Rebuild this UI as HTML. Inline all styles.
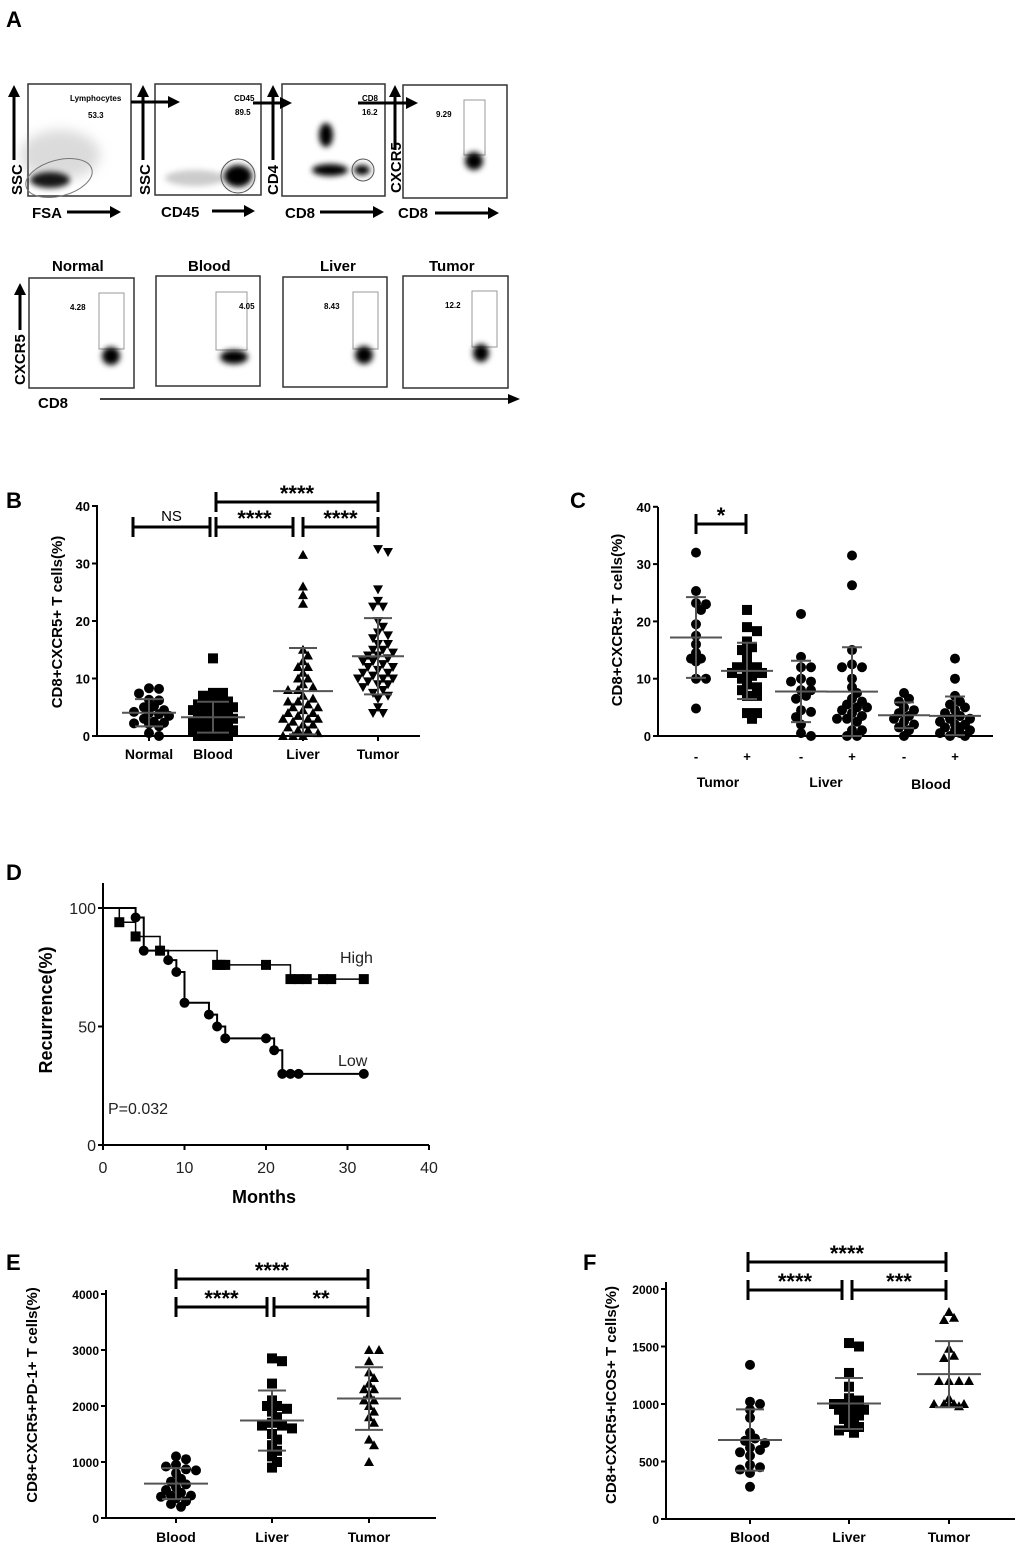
<!DOCTYPE html>
<html><head><meta charset="utf-8"><style>
html,body{margin:0;padding:0;background:#fff}
svg{display:block;font-family:"Liberation Sans",Arial,sans-serif}
.pl{font-weight:bold;font-size:22px}
.ax{stroke:#000;stroke-width:2;fill:none}
</style></head><body>
<svg id="fig" width="1020" height="1547" viewBox="0 0 1020 1547" xmlns="http://www.w3.org/2000/svg">
<defs>
<filter id="bl" x="-50%" y="-50%" width="200%" height="200%"><feGaussianBlur stdDeviation="3"/></filter>
<filter id="bl2" x="-50%" y="-50%" width="200%" height="200%"><feGaussianBlur stdDeviation="6"/></filter>
</defs>
<text class="pl" x="6" y="27">A</text>
<text class="pl" x="6" y="508">B</text>
<text class="pl" x="570" y="508">C</text>
<text class="pl" x="6" y="880">D</text>
<text class="pl" x="6" y="1270">E</text>
<text class="pl" x="583" y="1270">F</text>

<g>
 <rect x="28" y="84" width="103" height="112" fill="none" stroke="#333" stroke-width="1.5"/>
 <ellipse cx="60" cy="155" rx="40" ry="25" fill="#999" opacity="0.35" filter="url(#bl2)"/>
 <ellipse cx="50" cy="180" rx="20" ry="8" fill="#000" opacity="0.9" filter="url(#bl)"/>
 <ellipse cx="59" cy="178" rx="34" ry="18" transform="rotate(-15 59 178)" fill="none" stroke="#777" stroke-width="1"/>
 <text x="70" y="101" font-size="8" font-weight="bold">Lymphocytes</text>
 <text x="88" y="118" font-size="8" font-weight="bold">53.3</text>
 <rect x="155" y="84" width="106" height="111" fill="none" stroke="#333" stroke-width="1.5"/>
 <ellipse cx="195" cy="178" rx="30" ry="8" fill="#999" opacity="0.5" filter="url(#bl)"/>
 <ellipse cx="238" cy="176" rx="14" ry="11" fill="#000" filter="url(#bl)"/>
 <circle cx="238" cy="176" r="17" fill="none" stroke="#555" stroke-width="1"/>
 <text x="234" y="101" font-size="8" font-weight="bold">CD45</text>
 <text x="235" y="115" font-size="8" font-weight="bold">89.5</text>
 <rect x="282" y="84" width="103" height="112" fill="none" stroke="#333" stroke-width="1.5"/>
 <ellipse cx="326" cy="135" rx="7" ry="12" fill="#000" filter="url(#bl)"/>
 <ellipse cx="330" cy="170" rx="18" ry="6" fill="#000" filter="url(#bl)"/>
 <ellipse cx="362" cy="170" rx="8" ry="5" fill="#000" filter="url(#bl)"/>
 <circle cx="363" cy="170" r="11" fill="none" stroke="#555" stroke-width="1"/>
 <text x="362" y="101" font-size="8" font-weight="bold">CD8</text>
 <text x="362" y="115" font-size="8" font-weight="bold">16.2</text>
 <rect x="403" y="85" width="104" height="113" fill="none" stroke="#333" stroke-width="1.5"/>
 <rect x="464" y="100" width="21" height="55" fill="none" stroke="#999" stroke-width="1"/>
 <ellipse cx="474" cy="161" rx="9" ry="9" fill="#000" filter="url(#bl)"/>
 <text x="436" y="117" font-size="8" font-weight="bold">9.29</text>
 <g stroke="#000" stroke-width="3" fill="#000">
  <line x1="14" y1="160" x2="14" y2="95"/><polygon points="8,97 20,97 14,85" stroke="none"/>
  <line x1="143" y1="160" x2="143" y2="95"/><polygon points="137,97 149,97 143,85" stroke="none"/>
  <line x1="273" y1="160" x2="273" y2="95"/><polygon points="267,97 279,97 273,85" stroke="none"/>
  <line x1="395" y1="150" x2="395" y2="95"/><polygon points="389,97 401,97 395,85" stroke="none"/>
  <line x1="131" y1="102" x2="170" y2="102"/><polygon points="168,96 168,108 180,102" stroke="none"/>
  <line x1="253" y1="103" x2="283" y2="103"/><polygon points="280,97 280,109 292,103" stroke="none"/>
  <line x1="358" y1="103" x2="408" y2="103"/><polygon points="406,97 406,109 418,103" stroke="none"/>
  <line x1="67" y1="212" x2="112" y2="212"/><polygon points="110,206 110,218 121,212" stroke="none"/>
  <line x1="212" y1="211" x2="246" y2="211"/><polygon points="244,205 244,217 255,211" stroke="none"/>
  <line x1="320" y1="212" x2="375" y2="212"/><polygon points="373,206 373,218 384,212" stroke="none"/>
  <line x1="435" y1="213" x2="490" y2="213"/><polygon points="488,207 488,219 499,213" stroke="none"/>
 </g>
 <text x="22" y="195" font-size="15" font-weight="bold" transform="rotate(-90 22 195)">SSC</text>
 <text x="150" y="195" font-size="15" font-weight="bold" transform="rotate(-90 150 195)">SSC</text>
 <text x="278" y="195" font-size="15" font-weight="bold" transform="rotate(-90 278 195)">CD4</text>
 <text x="401" y="193" font-size="15" font-weight="bold" transform="rotate(-90 401 193)">CXCR5</text>
 <text x="32" y="218" font-size="15" font-weight="bold">FSA</text>
 <text x="161" y="217" font-size="15" font-weight="bold">CD45</text>
 <text x="285" y="218" font-size="15" font-weight="bold">CD8</text>
 <text x="398" y="218" font-size="15" font-weight="bold">CD8</text>
</g>
<g>
 <text x="52" y="271" font-size="15" font-weight="bold">Normal</text>
 <text x="188" y="271" font-size="15" font-weight="bold">Blood</text>
 <text x="320" y="271" font-size="15" font-weight="bold">Liver</text>
 <text x="429" y="271" font-size="15" font-weight="bold">Tumor</text>
 <rect x="29" y="278" width="105" height="110" fill="none" stroke="#333" stroke-width="1.5"/>
 <rect x="99" y="293" width="25" height="56" fill="none" stroke="#999"/>
 <ellipse cx="111" cy="356" rx="9" ry="9" fill="#000" filter="url(#bl)"/>
 <text x="70" y="310" font-size="8" font-weight="bold">4.28</text>
 <rect x="156" y="276" width="104" height="110" fill="none" stroke="#333" stroke-width="1.5"/>
 <rect x="216" y="292" width="31" height="58" fill="none" stroke="#999"/>
 <ellipse cx="234" cy="357" rx="14" ry="7" fill="#000" filter="url(#bl)"/>
 <text x="239" y="309" font-size="8" font-weight="bold">4.05</text>
 <rect x="283" y="277" width="104" height="110" fill="none" stroke="#333" stroke-width="1.5"/>
 <rect x="353" y="292" width="25" height="57" fill="none" stroke="#999"/>
 <ellipse cx="364" cy="355" rx="9" ry="9" fill="#000" filter="url(#bl)"/>
 <text x="324" y="309" font-size="8" font-weight="bold">8.43</text>
 <rect x="403" y="276" width="105" height="112" fill="none" stroke="#333" stroke-width="1.5"/>
 <rect x="472" y="291" width="25" height="56" fill="none" stroke="#999"/>
 <ellipse cx="481" cy="353" rx="8" ry="9" fill="#000" filter="url(#bl)"/>
 <text x="445" y="308" font-size="8" font-weight="bold">12.2</text>
 <g stroke="#000" stroke-width="3" fill="#000">
  <line x1="20" y1="330" x2="20" y2="293"/><polygon points="14,295 26,295 20,283" stroke="none"/>
 </g>
 <line x1="100" y1="399" x2="510" y2="399" stroke="#000" stroke-width="1.5"/>
 <polygon points="508,394 508,404 520,399" fill="#000"/>
 <text x="25" y="385" font-size="15" font-weight="bold" transform="rotate(-90 25 385)">CXCR5</text>
 <text x="38" y="408" font-size="15" font-weight="bold">CD8</text>
</g>

<text x="0" y="0" font-size="15" font-weight="bold" text-anchor="middle" transform="translate(62,622) rotate(-90)">CD8+CXCR5+ T cells(%)</text>
<text x="0" y="0" font-size="15" font-weight="bold" text-anchor="middle" transform="translate(622,620) rotate(-90)">CD8+CXCR5+ T cells(%)</text>
<text x="0" y="0" font-size="18" font-weight="bold" text-anchor="middle" transform="translate(52,1010) rotate(-90)">Recurrence(%)</text>
<text x="264" y="1203" font-size="18" font-weight="bold" text-anchor="middle">Months</text>
<text x="340" y="963" font-size="16" fill="#222">High</text>
<text x="338" y="1066" font-size="16" fill="#222">Low</text>
<text x="108" y="1114" font-size="16" fill="#222">P=0.032</text>
<text x="0" y="0" font-size="15" font-weight="bold" text-anchor="middle" transform="translate(37,1395) rotate(-90)">CD8+CXCR5+PD-1+ T cells(%)</text>
<text x="0" y="0" font-size="15" font-weight="bold" text-anchor="middle" transform="translate(616,1395) rotate(-90)">CD8+CXCR5+ICOS+ T cells(%)</text>
<text x="718" y="787" font-size="14" font-weight="bold" text-anchor="middle">Tumor</text>
<text x="826" y="787" font-size="14" font-weight="bold" text-anchor="middle">Liver</text>
<text x="931" y="789" font-size="14" font-weight="bold" text-anchor="middle">Blood</text>
</svg>
<script>
// ===== Panel B data =====
const bCats = ["Normal","Blood","Liver","Tumor"];
const bNormal = [8.2,8.3,6.2,6.3,5.2,5,4.5,4,3.8,3.5,3,2.5,2.3,2.2,2.1,1.7,0.5,0,7.4,4.2];
const bBlood = [13.5,7.5,7.5,7,6.5,6,6,5.5,5,5,5,4.5,4.5,4,4,4,3.5,3.5,3.5,3,3,3,2.5,2.5,2.5,2,2,2,2,1.5,1.5,1.5,1,1,1,1,0.5,0.5,0.5,0,0,0,0];
const bLiver = [31.5,26,24.5,23,15,14,13,12,12,11,10,10,9,8.5,8,8,7,6.5,6,6,5.5,5,5,4.5,4,4,3.5,3,3,3,2.5,2,2,1.5,1,1,0.5,0,0,0];
const bTumor = [32.5,32,25.5,23.5,22.5,22.5,20,19,18,17.5,17,16,16,15,15,14.5,14,14,13.5,13,13,12.5,12,12,11.5,11,11,10.5,10,10,10,9.5,9,9,8.5,8,7.5,7,6.5,5,4,4];
const bTicks = [0,10,20,30,40];
// ===== Panel C data =====
const cCats = ["-","+","-","+","-","+"];
const cTumorNeg = [32,25.3,23.2,23,22,19.5,17.5,16,14.5,13.5,13.5,13,10,10,4.8];
const cTumorPos = [22,19,18.3,16.5,15.5,15,14,12.5,12,12,11.5,11,11,10.5,10,9,8.5,8,7,7,4,4,3];
const cLiverNeg = [21.3,13.8,12,12,10,9.5,9.5,8,8,7,6.5,4.5,4.2,3.3,2,0.5,0];
const cLiverPos = [31.5,26.3,15,12.5,12,12,10,8.5,7.5,6.5,6,5.5,5,5,4.5,4,3.5,3,3,2.5,1,1,0,0];
const cBloodNeg = [7.5,6.5,6,5,4.5,4,3.5,3,2.5,2,1.5,1,0];
const cBloodPos = [13.5,10,7,6,5.5,5,4.5,4,3.5,3,3,2.5,2,2,1.5,1.5,1,1,0.5,0.5,0,0];
// ===== Panel D data =====
const dXTicks = [0,10,20,30,40];
const dYTicks = [0,50,100];
const dHighT = [0,2,4,7,14,23];
const dHighV = [100,94,88,82,76,70];
const dHighMarks = [2,4,7,14,14.5,15,20,23,24,25,27,28,32];
const dLowT = [0,4,5,8,9,10,13,14,15,21,22];
const dLowV = [100,96,82,78,73,60,55,50,45,40,30];
const dLowMarks = [4,5,7,8,9,10,13,14,15,20,21,22,23,24,32];
const dEnd = 32;
// ===== Panel E data =====
const eCats = ["Blood","Liver","Tumor"];
const eBlood = [1100,1050,950,920,870,850,800,700,650,600,550,500,450,400,400,380,350,300,250,200];
const eLiver = [2850,2800,2400,2100,2000,2000,1950,1900,1800,1700,1650,1650,1600,1500,1400,1300,1200,1100,1000,900];
const eTumor = [3000,3000,2800,2600,2500,2400,2300,2300,2200,2100,2100,2000,1900,1800,1700,1400,1300,1000];
const eTicks = [0,1000,2000,3000,4000];
// ===== Panel F data =====
const fCats = ["Blood","Liver","Tumor"];
const fBlood = [1340,1020,1000,950,880,750,700,680,660,620,600,580,550,470,450,430,400,280];
const fLiver = [1530,1500,1270,1150,1050,1030,1000,1000,980,950,950,930,900,870,850,800,800,770,750];
const fTumor = [1800,1750,1730,1480,1420,1400,1200,1200,1200,1200,1050,1000,1000,1000,1000,1000,980];
const fTicks = [0,500,1000,1500,2000];

const NS="http://www.w3.org/2000/svg";
const svg=document.getElementById('fig');
function mk(tag,a,parent){const e=document.createElementNS(NS,tag);for(const k in a)e.setAttribute(k,a[k]);(parent||svg).appendChild(e);return e;}

function marker(g,shape,x,y,r){
  let e;
  if(shape==='circle') e=mk('circle',{cx:x,cy:y,r:r,fill:'#000'},g);
  else if(shape==='square') e=mk('rect',{x:x-r,y:y-r,width:2*r,height:2*r,fill:'#000'},g);
  else if(shape==='up') e=mk('polygon',{points:`${x-r},${y+r*0.8} ${x+r},${y+r*0.8} ${x},${y-r}`,fill:'#000'},g);
  else e=mk('polygon',{points:`${x-r},${y-r*0.8} ${x+r},${y-r*0.8} ${x},${y+r}`,fill:'#000'},g);
  
  
}
function swarm(vals,yS,cx,d,maxW){
  const pts=[];const sorted=vals.slice().sort((a,b)=>b-a);
  const step=d*0.5;const n=Math.floor(maxW/step);
  for(const v of sorted){
    const y=yS(v);let best=cx,bestD=-1;
    for(let s=0;s<=2*n;s++){
      const off=(s===0?0:(Math.ceil(s/2)*(s%2?1:-1)))*step;
      const x=cx+off;
      let md=1e9;for(const p of pts)md=Math.min(md,Math.hypot(p.x-x,p.y-y));
      if(md>=d*0.75){best=x;bestD=1e9;break;}
      if(md>bestD+0.5){bestD=md;best=x;}
    }
    pts.push({x:best,y});
  }
  return pts;
}
function stats(v){const m=v.reduce((a,b)=>a+b,0)/v.length;const sd=Math.sqrt(v.reduce((a,b)=>a+(b-m)*(b-m),0)/(v.length-1));return {m,sd};}

function yAxis(name,ax,yS,ticks,top,xEnd,y0,fs){
  const g=mk('g',{});
  
  
  mk('line',{x1:ax,y1:y0,x2:ax,y2:top,class:'ax'},g);
  mk('line',{x1:ax,y1:y0,x2:xEnd,y2:y0,class:'ax'},g);
  for(const t of ticks){
    mk('line',{x1:ax-5,y1:yS(t),x2:ax,y2:yS(t),class:'ax'},g);
    const tx=mk('text',{x:ax-7,y:yS(t)+5,'text-anchor':'end','font-size':fs,'font-weight':'bold'},g);
    tx.textContent=t;
    
    
  }
  return g;
}
function group(name,vals,shape,cx,yS,r,halfMean,halfSd,maxW){
  const g=mk('g',{});
  
  
  for(const p of swarm(vals,yS,cx,r*2,maxW)) marker(g,shape,p.x,p.y,r);
  const s=stats(vals);const lo=Math.max(s.m-s.sd,0);
  const st={stroke:'#555','stroke-width':2};
  mk('line',Object.assign({x1:cx-halfMean,x2:cx+halfMean,y1:yS(s.m),y2:yS(s.m)},st),g);
  mk('line',Object.assign({x1:cx,x2:cx,y1:yS(s.m+s.sd),y2:yS(lo)},st),g);
  mk('line',Object.assign({x1:cx-halfSd,x2:cx+halfSd,y1:yS(s.m+s.sd),y2:yS(s.m+s.sd)},st),g);
  mk('line',Object.assign({x1:cx-halfSd,x2:cx+halfSd,y1:yS(lo),y2:yS(lo)},st),g);
}
function bracket(name,x1,x2,y,label,fs){
  const g=mk('g',{});
  
  
  const st={stroke:'#000','stroke-width':3};
  mk('line',Object.assign({x1:x1,x2:x2,y1:y,y2:y},st),g);
  mk('line',Object.assign({x1:x1,x2:x1,y1:y-10,y2:y+10},st),g);
  mk('line',Object.assign({x1:x2,x2:x2,y1:y-10,y2:y+10},st),g);
  const t=mk('text',{x:(x1+x2)/2,y:label==='NS'?y-6:y-1,'text-anchor':'middle','font-size':label==='NS'?15:fs,'font-weight':label==='NS'?'normal':'bold'},g);
  t.textContent=label;
}
function catLabels(cats,xs,y,fs){
  cats.forEach((c,i)=>{
    const t=mk('text',{x:xs[i],y:y,'text-anchor':'middle','font-size':fs,'font-weight':'bold'});
    t.textContent=c;
    
    
  });
}

// Panel B
(function(){
  const yS=v=>736-v*5.75;const xs=[149,213,303,378];
  yAxis('y-axis-b',97,yS,bTicks,505,420,736,13);
  xs.forEach(x=>mk('line',{x1:x,x2:x,y1:736,y2:741,class:'ax'}));
  catLabels(bCats,xs,759,14);
  group('group-normal',bNormal,'circle',xs[0],yS,5,27,14,20);
  group('group-blood',bBlood,'square',xs[1],yS,5,32,16,22);
  group('group-liver',bLiver,'up',xs[2],yS,5,30,14,22);
  group('group-tumor',bTumor,'down',xs[3],yS,5,26,14,22);
  bracket('bracket-ns',133,210,527,'NS',22);
  bracket('bracket-blood-liver',216,293,527,'****',22);
  bracket('bracket-liver-tumor',303,378,527,'****',22);
  bracket('bracket-blood-tumor',216,378,502,'****',22);
})();
// Panel C
(function(){
  const yS=v=>736-v*5.73;const xs=[696,747,801,852,904,955];
  yAxis('y-axis-c',658,yS,bTicks,507,993,736,13);
  xs.forEach((x,i)=>{const t=mk('text',{x:x,y:761,'text-anchor':'middle','font-size':13,'font-weight':'bold'});t.textContent=cCats[i];
    
    });
  group('group-tumor-neg',cTumorNeg,'circle',xs[0],yS,5,26,10,14);
  group('group-tumor-pos',cTumorPos,'square',xs[1],yS,5,26,10,16);
  group('group-liver-neg',cLiverNeg,'circle',xs[2],yS,5,26,10,14);
  group('group-liver-pos',cLiverPos,'circle',xs[3],yS,5,26,10,16);
  group('group-blood-neg',cBloodNeg,'circle',xs[4],yS,5,26,10,14);
  group('group-blood-pos',cBloodPos,'circle',xs[5],yS,5,26,10,16);
  bracket('bracket-tumor',696,746,524,'*',22);
})();
// Panel D
(function(){
  const xS=t=>103+t*8.15;const yS=v=>1145-v*2.37;
  const g=mk('g',{});
  
  
  mk('line',{x1:103,y1:1145,x2:103,y2:883,class:'ax'},g);
  mk('line',{x1:103,y1:1145,x2:xS(40),y2:1145,class:'ax'},g);
  dYTicks.forEach(t=>{mk('line',{x1:98,x2:103,y1:yS(t),y2:yS(t),class:'ax'},g);
    const tx=mk('text',{x:96,y:yS(t)+6,'text-anchor':'end','font-size':16,fill:'#222'},g);tx.textContent=t;});
  dXTicks.forEach(t=>{mk('line',{x1:xS(t),x2:xS(t),y1:1145,y2:1150,class:'ax'},g);
    const tx=mk('text',{x:xS(t),y:1173,'text-anchor':'middle','font-size':16,fill:'#222'},g);tx.textContent=t;});
  function curve(name,T,V,marks,shape,w){
    let d=`M${xS(T[0])},${yS(V[0])}`;
    for(let i=1;i<T.length;i++){d+=` H${xS(T[i])} V${yS(V[i])}`;}
    d+=` H${xS(dEnd)}`;
    const p=mk('path',{d:d,fill:'none',stroke:'#000','stroke-width':w});
    
    
    const val=t=>{let v=V[0];for(let i=0;i<T.length;i++)if(T[i]<=t)v=V[i];return v;};
    const mg=mk('g',{});
    
    
    marks.forEach(t=>marker(mg,shape,xS(t),yS(val(t)),5));
  }
  curve('curve-high',dHighT,dHighV,dHighMarks,'square',1.5);
  curve('curve-low',dLowT,dLowV,dLowMarks,'circle',2);
})();
// Panel E
(function(){
  const yS=v=>1518-v*0.056;const xs=[176,272,369];
  yAxis('y-axis-e',106,yS,eTicks,1290,436,1518,12);
  xs.forEach(x=>mk('line',{x1:x,x2:x,y1:1518,y2:1523,class:'ax'}));
  catLabels(eCats,xs,1542,14);
  group('group-e-blood',eBlood,'circle',xs[0],yS,5,32,14,22);
  group('group-e-liver',eLiver,'square',xs[1],yS,5,32,14,22);
  group('group-e-tumor',eTumor,'up',xs[2],yS,5,32,14,22);
  bracket('bracket-e-blood-liver',176,267,1307,'****',22);
  bracket('bracket-e-liver-tumor',274,368,1307,'**',22);
  bracket('bracket-e-blood-tumor',176,368,1279,'****',22);
})();
// Panel F
(function(){
  const yS=v=>1519-v*0.115;const xs=[750,849,949];
  yAxis('y-axis-f',666,yS,fTicks,1282,1015,1519,12);
  xs.forEach(x=>mk('line',{x1:x,x2:x,y1:1519,y2:1524,class:'ax'}));
  catLabels(fCats,xs,1542,14);
  group('group-f-blood',fBlood,'circle',xs[0],yS,5,32,14,22);
  group('group-f-liver',fLiver,'square',xs[1],yS,5,32,14,22);
  group('group-f-tumor',fTumor,'up',xs[2],yS,5,32,14,22);
  bracket('bracket-f-blood-liver',748,842,1290,'****',22);
  bracket('bracket-f-liver-tumor',852,946,1290,'***',22);
  bracket('bracket-f-blood-tumor',748,946,1262,'****',22);
})();
</script>
</body></html>
